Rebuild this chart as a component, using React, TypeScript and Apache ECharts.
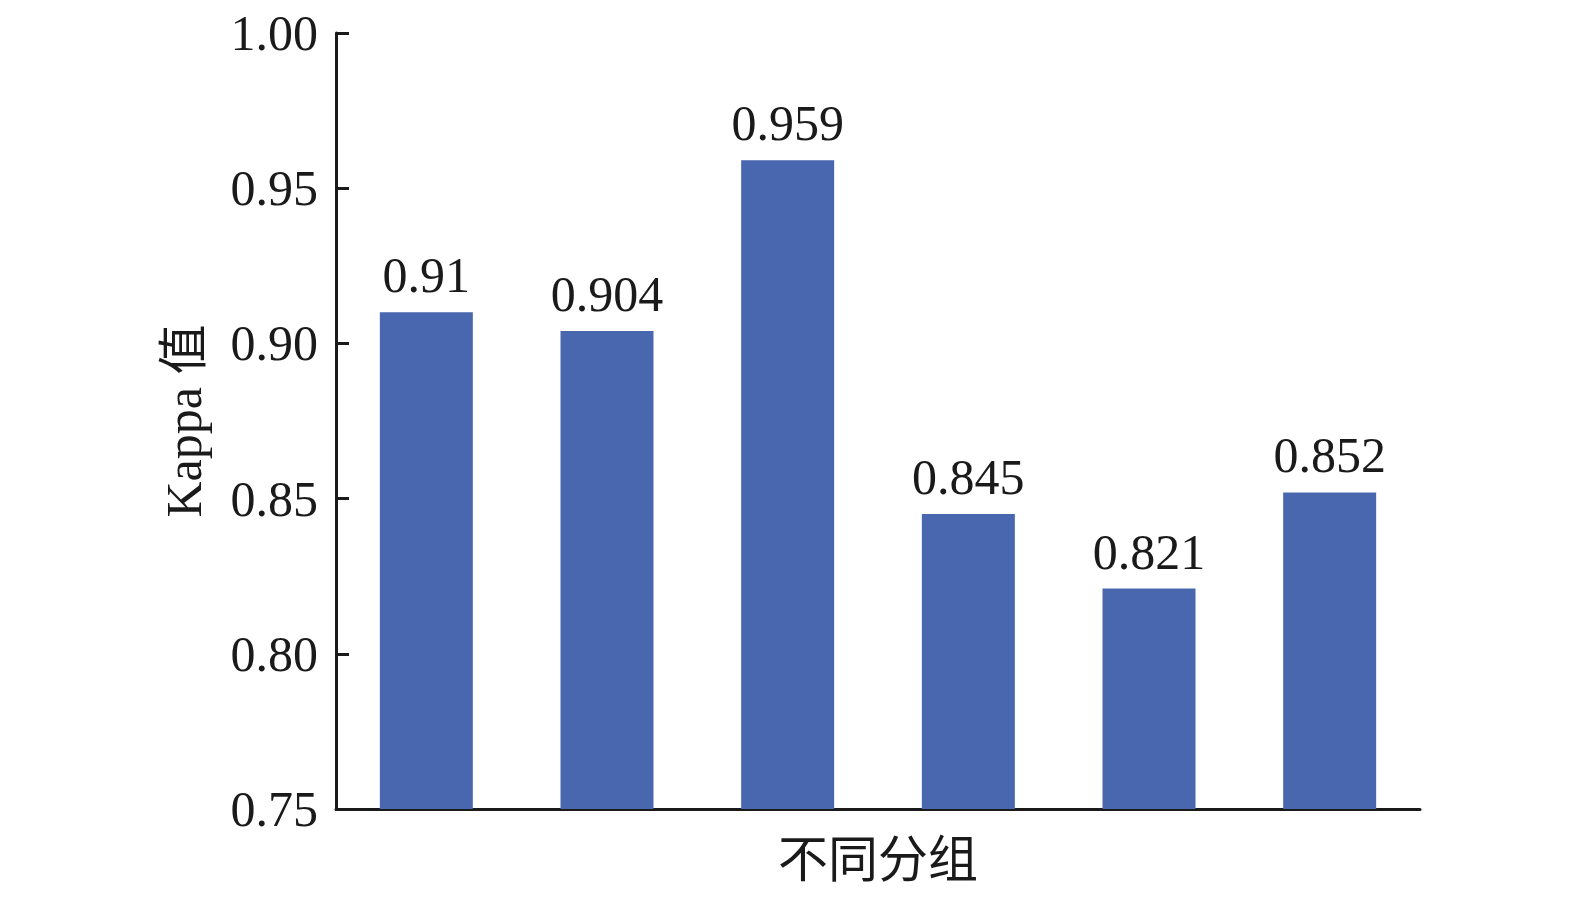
import React, { useEffect, useRef } from "react";
import * as echarts from "echarts";

const categories = ["组1", "组2", "组3", "组4", "组5", "组6"];
const kappaValues = [0.91, 0.904, 0.959, 0.845, 0.821, 0.852];
const yMin = 0.75;
const yMax = 1.0;
const yInterval = 0.05;

const FONT = "'Liberation Serif', 'Times New Roman', 'Noto Sans CJK SC', serif";
const INK = "#1a1a1a";

export default function App() {
  const ref = useRef<HTMLDivElement>(null);
  useEffect(() => {
    document.body.style.margin = "0";
    if (!ref.current) return;
    const chart = echarts.init(ref.current, undefined, { renderer: "svg" });
    chart.setOption({
      animation: false,
      backgroundColor: "#ffffff",
      grid: { left: 336, right: 155, top: 33, bottom: 89, containLabel: false },
      xAxis: {
        type: "category",
        data: categories,
        name: "不同分组",
        nameLocation: "middle",
        nameGap: 26,
        nameTextStyle: { fontFamily: FONT, fontSize: 50, color: INK },
        axisLine: { show: true, lineStyle: { color: INK, width: 3 } },
        axisTick: { show: false },
        axisLabel: { show: false },
        splitLine: { show: false },
      },
      yAxis: {
        type: "value",
        min: yMin,
        max: yMax,
        interval: yInterval,
        name: "Kappa 值",
        nameLocation: "middle",
        nameGap: 127,
        nameRotate: 90,
        nameTextStyle: { fontFamily: FONT, fontSize: 50, color: INK },
        axisLine: { show: true, lineStyle: { color: INK, width: 3 } },
        axisTick: { show: true, inside: true, length: 13, lineStyle: { color: INK, width: 3 } },
        axisLabel: {
          fontFamily: FONT,
          fontSize: 50,
          color: INK,
          margin: 18,
          formatter: (v: number) => v.toFixed(2),
        },
        splitLine: { show: false },
      },
      series: [
        {
          type: "bar",
          data: kappaValues,
          barWidth: 93,
          itemStyle: { color: "#4967AE" },
          label: {
            show: true,
            position: "top",
            distance: 12,
            fontFamily: FONT,
            fontSize: 50,
            color: INK,
          },
        },
      ],
    });
    return () => chart.dispose();
  }, []);
  return <div ref={ref} style={{ width: 1575, height: 898 }} />;
}
